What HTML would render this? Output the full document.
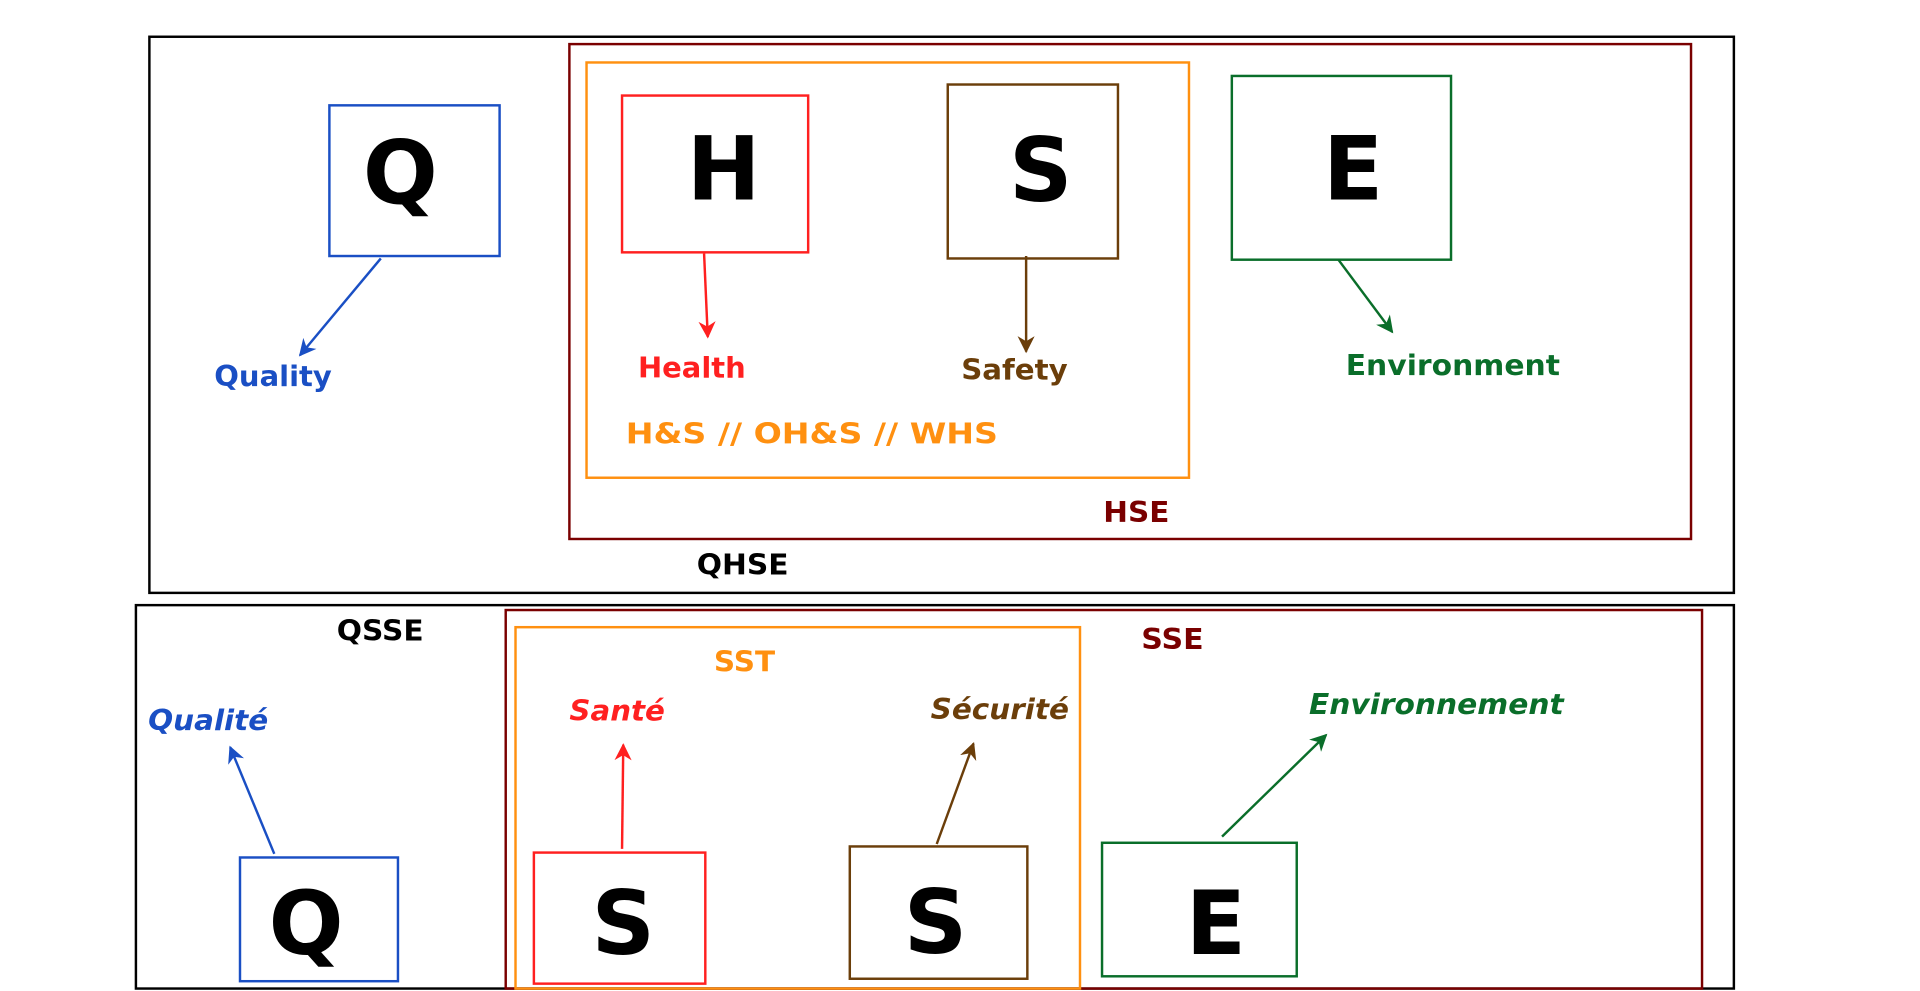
<!DOCTYPE html>
<html><head><meta charset="utf-8"><style>html,body{margin:0;padding:0;background:#fff;overflow:hidden}svg{display:block}text{font-family:"DejaVu Sans","Liberation Sans",sans-serif;font-weight:bold}</style></head><body>
<svg width="1920" height="991" viewBox="0 0 1568 809" preserveAspectRatio="none" xmlns="http://www.w3.org/2000/svg">
<defs>
<marker id="m" viewBox="0 0 10 10" refX="9" refY="5" markerWidth="14" markerHeight="14" orient="auto-start-reverse" markerUnits="userSpaceOnUse"><path d="M0,0 L10,5 L0,10 L3,5 z" fill="context-stroke"/></marker>
</defs>
<rect width="1568" height="809" fill="#fff"/>
<g fill="none" stroke-width="2">
<rect x="122" y="30" width="1294" height="454" stroke="#000"/>
<rect x="465" y="36" width="916" height="404" stroke="#7a0000"/>
<rect x="479" y="51" width="492" height="339" stroke="#ff9010"/>
<rect x="269" y="86" width="139" height="123" stroke="#1a4fc4"/>
<rect x="508" y="78" width="152" height="128" stroke="#ff2020"/>
<rect x="774" y="69" width="139" height="142" stroke="#6b3e0a"/>
<rect x="1006" y="62" width="179" height="150" stroke="#0a6e2a"/>
<rect x="111" y="494" width="1305" height="313" stroke="#000"/>
<rect x="413" y="498" width="977" height="309" stroke="#7a0000"/>
<rect x="421" y="512" width="461" height="295" stroke="#ff9010"/>
<rect x="196" y="700" width="129" height="101" stroke="#1a4fc4"/>
<rect x="436" y="696" width="140" height="107" stroke="#ff2020"/>
<rect x="694" y="691" width="145" height="108" stroke="#6b3e0a"/>
<rect x="900" y="688" width="159" height="109" stroke="#0a6e2a"/>
</g>
<g fill="none" stroke-width="2" marker-end="url(#m)">
<line x1="311" y1="211" x2="245" y2="290" stroke="#1a4fc4"/>
<line x1="575" y1="207" x2="578" y2="275" stroke="#ff2020"/>
<line x1="838" y1="209" x2="838" y2="287" stroke="#6b3e0a"/>
<line x1="1093" y1="212" x2="1137" y2="271" stroke="#0a6e2a"/>
<line x1="224" y1="697" x2="188" y2="610" stroke="#1a4fc4"/>
<line x1="508" y1="693" x2="509" y2="608" stroke="#ff2020"/>
<line x1="765" y1="689" x2="795" y2="607" stroke="#6b3e0a"/>
<line x1="998" y1="683" x2="1083" y2="600" stroke="#0a6e2a"/>
</g>
<g font-size="72" text-anchor="middle" fill="#000">
<text x="327" y="166">Q</text>
<text x="591" y="163">H</text>
<text x="850" y="164">S</text>
<text x="1105" y="163">E</text>
<text x="250" y="779">Q</text>
<text x="509" y="779">S</text>
<text x="764" y="778">S</text>
<text x="993" y="779">E</text>
</g>
<g font-size="23" lengthAdjust="spacingAndGlyphs">
<text x="175" y="315" fill="#1a4fc4" textLength="96" lengthAdjust="spacingAndGlyphs">Quality</text>
<text x="521" y="308" fill="#ff2020" textLength="88" lengthAdjust="spacingAndGlyphs">Health</text>
<text x="785" y="310" fill="#6b3e0a" textLength="87" lengthAdjust="spacingAndGlyphs">Safety</text>
<text x="1099" y="306" fill="#0a6e2a" textLength="175" lengthAdjust="spacingAndGlyphs">Environment</text>
<text x="511" y="362" fill="#ff9010" textLength="304" lengthAdjust="spacingAndGlyphs">H&amp;S // OH&amp;S // WHS</text>
<text x="901" y="426" fill="#7a0000" textLength="54" lengthAdjust="spacingAndGlyphs">HSE</text>
<text x="569" y="469" fill="#000" textLength="75" lengthAdjust="spacingAndGlyphs">QHSE</text>
<text x="275" y="523" fill="#000" textLength="71" lengthAdjust="spacingAndGlyphs">QSSE</text>
<text x="583" y="548" fill="#ff9010" textLength="50" lengthAdjust="spacingAndGlyphs">SST</text>
<text x="932" y="530" fill="#7a0000" textLength="51" lengthAdjust="spacingAndGlyphs">SSE</text>
<g font-style="italic">
<text x="121" y="596" fill="#1a4fc4" textLength="98" lengthAdjust="spacingAndGlyphs">Qualité</text>
<text x="465" y="588" fill="#ff2020" textLength="78" lengthAdjust="spacingAndGlyphs">Santé</text>
<text x="760" y="587" fill="#6b3e0a" textLength="113" lengthAdjust="spacingAndGlyphs">Sécurité</text>
<text x="1069" y="583" fill="#0a6e2a" textLength="208" lengthAdjust="spacingAndGlyphs">Environnement</text>
</g>
</g>
</svg>
</body></html>
